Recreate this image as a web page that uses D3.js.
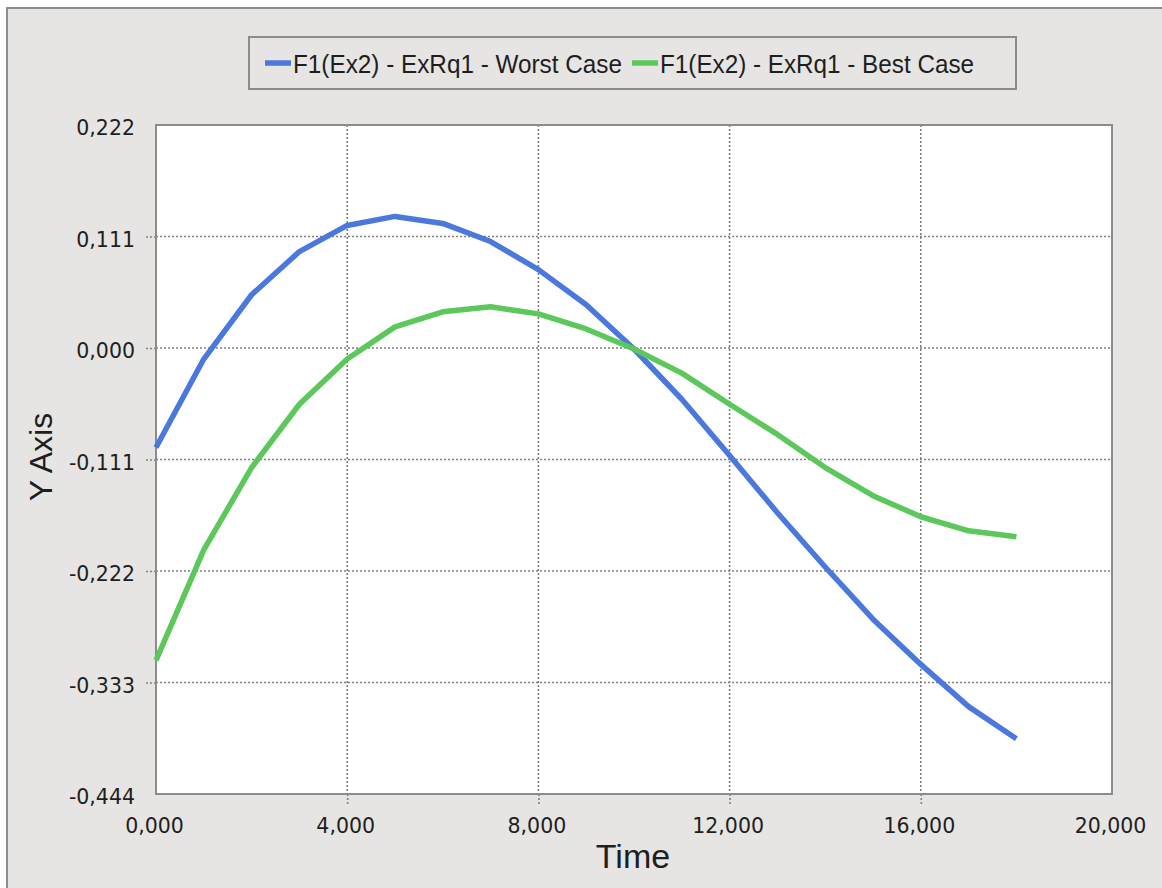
<!DOCTYPE html>
<html>
<head>
<meta charset="utf-8">
<script src="https://cdn.jsdelivr.net/npm/d3@7"></script>
<style>
	body { margin: 0; background: #fff; }
	.axis text { font-family: "DejaVu Sans", sans-serif; font-size: 20.5px; fill: #1e1e1e; }
	.axis .domain { display: none; }
	.axis line, .grid { stroke: #808080; stroke-width: 1.6; stroke-dasharray: 2,2; }
	.title { font-family: "Liberation Sans", Arial, sans-serif; fill: #1e1e1e; }
	.legend text { font-family: "Liberation Sans", Arial, sans-serif; font-size: 26px; fill: #1e1e1e; }
</style>
</head>
<body>
<div class="container"></div>
<script>
const WIDTH = 1162;
const HEIGHT = 888;
const LEFT = 156, TOP = 125, RIGHT = 1112, BOTTOM = 794;

// data
var timeValues = [0,1,2,3,4,5,6,7,8,9,10,11,12,13,14,15,16,17,18];
var worstCase = [-0.099,-0.011,0.053,0.096,0.122,0.131,0.124,0.106,0.078,0.043,-0.001,-0.051,-0.107,-0.164,-0.218,-0.270,-0.315,-0.357,-0.389];
var bestCase = [-0.311,-0.201,-0.119,-0.056,-0.011,0.021,0.036,0.041,0.034,0.019,-0.001,-0.025,-0.056,-0.086,-0.119,-0.147,-0.168,-0.182,-0.188];
var seriesNames = ["F1(Ex2) - ExRq1 - Worst Case", "F1(Ex2) - ExRq1 - Best Case"];
var seriesColors = ["#4b78dc", "#5cc85c"];
var xTicks = [0,4,8,12,16,20];
var yTicks = [-0.444,-0.333,-0.222,-0.111,0,0.111,0.222];

var locale = d3.formatLocale({decimal: ",", thousands: ".", grouping: [3], currency: ["", ""], minus: "-"});
var fmt = locale.format(".3f");

var translate = function(x, y){
	return "translate(" + x + "," + y + ")";
};

var svg = d3.select('.container').append('svg')
	.attr('width', WIDTH)
	.attr('height', HEIGHT);

// panel background
svg.append('rect')
	.attr('x', 7).attr('y', 8)
	.attr('width', WIDTH).attr('height', HEIGHT)
	.attr('fill', '#e6e5e3')
	.attr('stroke', '#8c8c8c')
	.attr('stroke-width', 2);

var xScale = d3.scaleLinear().domain([0, 20]).range([LEFT, RIGHT]);
var yScale = d3.scaleLinear().domain([-0.444, 0.222]).range([BOTTOM, TOP]);

svg.append('rect')
	.attr('x', LEFT).attr('y', TOP)
	.attr('width', RIGHT - LEFT).attr('height', BOTTOM - TOP)
	.attr('fill', '#fff');

// grid
svg.append('g').selectAll('line')
	.data(xTicks.slice(1, -1))
	.join('line')
	.classed('grid', true)
	.attr('x1', d => xScale(d)).attr('x2', d => xScale(d))
	.attr('y1', TOP).attr('y2', BOTTOM);

svg.append('g').selectAll('line')
	.data(yTicks.slice(1, -1))
	.join('line')
	.classed('grid', true)
	.attr('x1', LEFT).attr('x2', RIGHT)
	.attr('y1', d => yScale(d)).attr('y2', d => yScale(d));

// axes
var xAxis = d3.axisBottom(xScale).tickValues(xTicks).tickFormat(fmt).tickSize(12).tickPadding(12);
var yAxis = d3.axisLeft(yScale).tickValues(yTicks).tickFormat(fmt).tickSize(12).tickPadding(9);

svg.append('g')
	.attr('class', 'axis xAxis')
	.attr('transform', translate(0, BOTTOM))
	.call(xAxis);

svg.selectAll('.xAxis .tick text').attr('dx', -2);
svg.selectAll('.xAxis .tick').filter(d => d == 0 || d == 20).select('line').remove();

svg.append('g')
	.attr('class', 'axis yAxis')
	.attr('transform', translate(LEFT, 0))
	.call(yAxis);

svg.selectAll('.yAxis .tick text').attr('dy', '0.48em');
svg.selectAll('.yAxis .tick').filter(d => d == 0.222 || d == -0.444).select('line').remove();

// plot border
svg.append('rect')
	.attr('x', LEFT).attr('y', TOP)
	.attr('width', RIGHT - LEFT).attr('height', BOTTOM - TOP)
	.attr('fill', 'none')
	.attr('stroke', '#8c8c8c')
	.attr('stroke-width', 2);

// series
var line = d3.line()
	.x(function(q){ return xScale(q.x); })
	.y(function(q){ return yScale(q.y); });

[worstCase, bestCase].forEach(function(values, i){
	var data = values.map(function(v, j){ return {x: timeValues[j], y: v}; });
	svg.append('path')
		.attr('d', line(data))
		.attr('fill', 'none')
		.attr('stroke', seriesColors[i])
		.attr('stroke-width', 5.5)
		.attr('stroke-linejoin', 'round');
});

// titles
svg.append('text')
	.attr('class', 'title')
	.attr('x', 633).attr('y', 868)
	.attr('text-anchor', 'middle')
	.attr('font-size', 34)
	.text('Time');

svg.append('text')
	.attr('class', 'title')
	.attr('transform', translate(52, 457) + ' rotate(-90)')
	.attr('text-anchor', 'middle')
	.attr('font-size', 32)
	.text('Y Axis');

// legend
var legend = svg.append('g').attr('class', 'legend');
legend.append('rect')
	.attr('x', 249).attr('y', 37)
	.attr('width', 767).attr('height', 52)
	.attr('fill', '#e6e5e3')
	.attr('stroke', '#8c8c8c')
	.attr('stroke-width', 2);

var legendX = [265, 632];
var textLen = [329, 314];
seriesNames.forEach(function(name, i){
	legend.append('line')
		.attr('x1', legendX[i]).attr('x2', legendX[i] + 26)
		.attr('y1', 63).attr('y2', 63)
		.attr('stroke', seriesColors[i])
		.attr('stroke-width', 5.5);
	legend.append('text')
		.attr('x', legendX[i] + 28).attr('y', 73)
		.attr('textLength', textLen[i])
		.attr('lengthAdjust', 'spacingAndGlyphs')
		.text(name);
});
</script>
</body>
</html>
